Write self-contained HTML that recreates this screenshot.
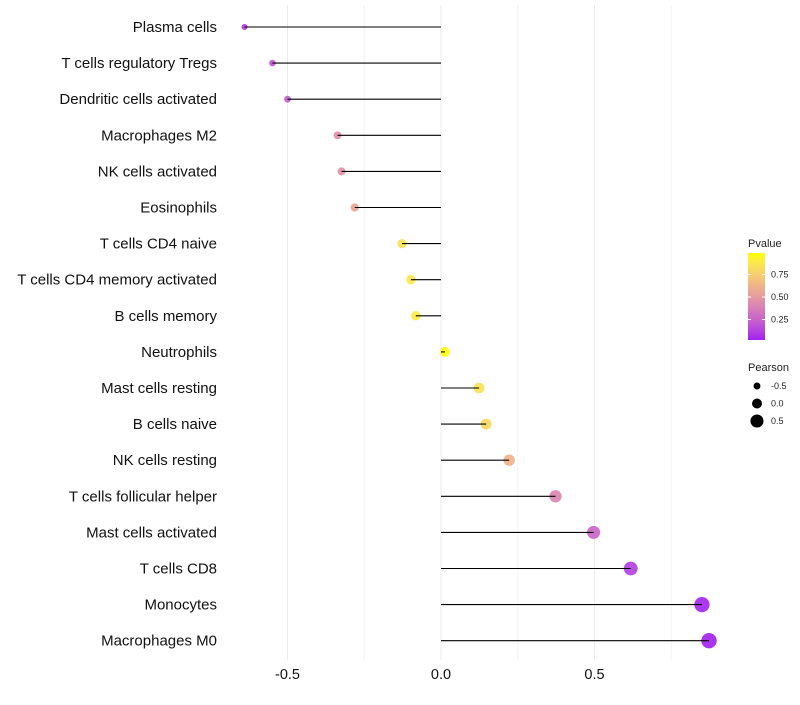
<!DOCTYPE html>
<html><head><meta charset="utf-8"><style>
body{margin:0;background:#fff;font-family:"Liberation Sans",sans-serif}
</style></head><body>
<svg id="chart" width="800" height="700" xmlns="http://www.w3.org/2000/svg"></svg>
<script>
const categories=["Plasma cells","T cells regulatory  Tregs","Dendritic cells activated","Macrophages M2","NK cells activated","Eosinophils","T cells CD4 naive","T cells CD4 memory activated","B cells memory","Neutrophils","Mast cells resting","B cells naive","NK cells resting","T cells follicular helper","Mast cells activated","T cells CD8","Monocytes","Macrophages M0"];
const pearson=[-0.64,-0.549,-0.50,-0.337,-0.324,-0.281,-0.127,-0.098,-0.082,0.013,0.124,0.147,0.222,0.373,0.497,0.618,0.85,0.873];
const pvalues=[0.08,0.18,0.22,0.45,0.45,0.55,0.85,0.88,0.9,0.99,0.85,0.8,0.62,0.4,0.25,0.1,0.02,0.01];
const xTicks=[-0.5,0,0.5];
const xTickLabels=["-0.5","0.0","0.5"];
const minorTicks=[-0.25,0.25,0.75];
const legendTicks=[0.25,0.5,0.75];
const sizeLegend=[-0.5,0,0.5];

const NS="http://www.w3.org/2000/svg";
const svg=document.getElementById('chart');
const X=v=>441+v*307;
const Y=i=>27+i*36.1;
const R=p=>5+3.1*p;
function toLab(c){let [r,g,b]=c.map(v=>{v/=255;return v<=0.04045?v/12.92:Math.pow((v+0.055)/1.055,2.4);});
let x=(r*0.4124+g*0.3576+b*0.1805)/0.95047,y=r*0.2126+g*0.7152+b*0.0722,z=(r*0.0193+g*0.1192+b*0.9505)/1.08883;
const f=t=>t>0.008856?Math.cbrt(t):7.787*t+16/116;x=f(x);y=f(y);z=f(z);return [116*y-16,500*(x-y),200*(y-z)];}
function fromLab(l){let y=(l[0]+16)/116,x=l[1]/500+y,z=y-l[2]/200;
const fi=t=>t*t*t>0.008856?t*t*t:(t-16/116)/7.787;x=fi(x)*0.95047;y=fi(y);z=fi(z)*1.08883;
let r=x*3.2406+y*-1.5372+z*-0.4986,g=x*-0.9689+y*1.8758+z*0.0415,b=x*0.0557+y*-0.2040+z*1.0570;
return [r,g,b].map(v=>{v=v<=0.0031308?12.92*v:1.055*Math.pow(v,1/2.4)-0.055;return Math.round(Math.max(0,Math.min(1,v))*255);});}
const LA=toLab([160,32,240]),LB=toLab([255,255,0]);
function col(p){const c=fromLab(LA.map((v,i)=>v+(LB[i]-v)*p));return `rgb(${c.join(',')})`;}
function mk(t,at,parent){const e=document.createElementNS(NS,t);for(const k in at)e.setAttribute(k,at[k]);(parent||svg).appendChild(e);return e;}

minorTicks.forEach(v=>{const l=mk('line',{x1:X(v),x2:X(v),y1:5,y2:660,stroke:'#f3f3f3','stroke-width':1});

});
xTicks.forEach((v,i)=>{const l=mk('line',{x1:X(v),x2:X(v),y1:5,y2:660,stroke:'#ebebeb','stroke-width':1});


const t=mk('text',{x:X(v),y:679,'text-anchor':'middle','font-size':14.5,fill:'#111'});t.textContent=xTickLabels[i];

});

categories.forEach((c,i)=>{
const t=mk('text',{x:217,y:Y(i)+5,'text-anchor':'end','font-size':15,fill:'#111'});t.textContent=c;


const d=mk('circle',{cx:X(pearson[i]),cy:Y(i),r:R(pearson[i]),fill:col(pvalues[i]),'fill-opacity':0.92});


const l=mk('line',{x1:X(0),x2:X(pearson[i]),y1:Y(i),y2:Y(i),stroke:'#000','stroke-width':1.1});


});

const g=mk('g',{});


const t1=mk('text',{x:748,y:247,'font-size':11,fill:'#222'},g);t1.textContent='Pvalue';
const defs=mk('defs',{},g);const lg=mk('linearGradient',{id:'gr',x1:0,y1:1,x2:0,y2:0},defs);
for(let k=0;k<=10;k++)mk('stop',{offset:k/10,'stop-color':col(k/10)},lg);
const bar=mk('rect',{x:748,y:253,width:17,height:87,fill:'url(#gr)'},g);


legendTicks.forEach(v=>{const y=342-v*90;
mk('line',{x1:748,x2:751,y1:y,y2:y,stroke:'#fff'},g);mk('line',{x1:762,x2:765,y1:y,y2:y,stroke:'#fff'},g);
const t=mk('text',{x:771,y:y+3,'font-size':9,fill:'#222'},g);t.textContent=v.toFixed(2);

});
const t2=mk('text',{x:748,y:371,'font-size':11,fill:'#222'},g);t2.textContent='Pearson';
sizeLegend.forEach((v,i)=>{const y=386+i*17.5;
const c=mk('circle',{cx:757,cy:y,r:R(v),fill:'#000'},g);


const t=mk('text',{x:771,y:y+3,'font-size':9,fill:'#222'},g);t.textContent=v.toFixed(1);

});
</script>
</body></html>
